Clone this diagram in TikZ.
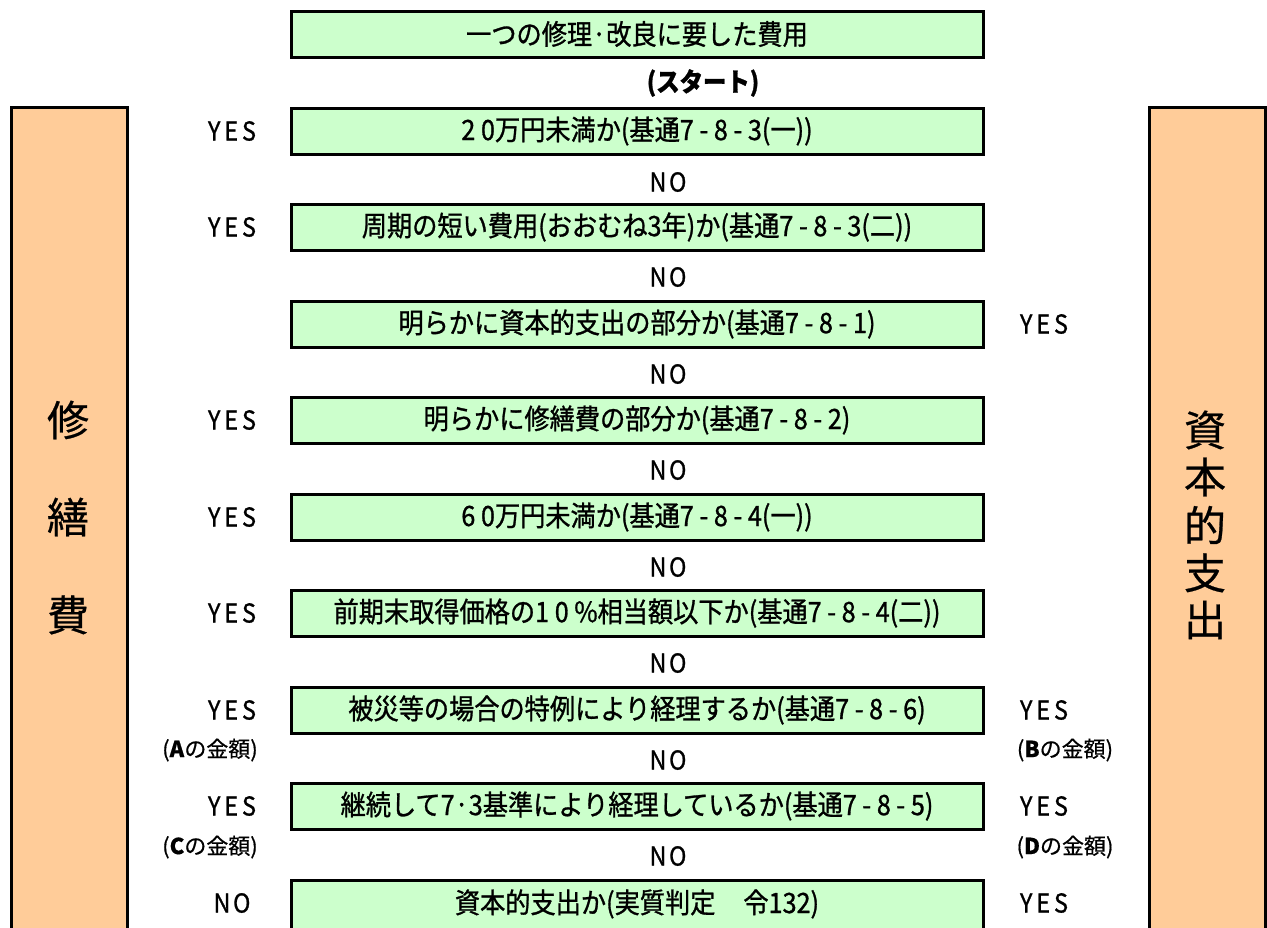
\documentclass[tikz,border=0pt]{standalone}
\usepackage{fontspec}
\setmainfont{Noto Sans CJK JP}[FakeStretch=0.9,FakeBold=1]
\newfontfamily\wide{Noto Sans CJK JP}[FakeBold=0.6]
\definecolor{boxgreen}{HTML}{CCFFCC}
\definecolor{barorange}{HTML}{FFCC99}
\begin{document}
\begin{tikzpicture}[x=1pt,y=-1pt,
  gbox/.style={draw,line width=3pt,fill=boxgreen,minimum width=692pt,minimum height=46pt,inner sep=0pt,font=\fontsize{28}{32}\selectfont},
  sidebar/.style={draw,line width=3pt,fill=barorange,minimum width=116pt,minimum height=840pt,inner sep=0pt,anchor=north west},
  lbl/.style={font=\fontsize{26}{30}\selectfont,inner sep=0pt},
  small/.style={font=\wide\fontsize{22}{26}\selectfont,inner sep=0pt},
  big/.style={font=\wide\fontsize{42}{46}\selectfont,inner sep=0pt}]
\useasboundingbox (0,0) rectangle (1267,927);
% side bars
\node[sidebar] (lbar) at (10,106) {};
\node[sidebar] (rbar) at (1148,106) {};
\node[big] (s1) at (68,420) {修};
\node[big] (s2) at (68,517) {繕};
\node[big] (s3) at (68,615) {費};
\node[big] (c1) at (1205,430) {資};
\node[big] (c2) at (1205,477) {本};
\node[big] (c3) at (1205,525) {的};
\node[big] (c4) at (1205,573) {支};
\node[big] (c5) at (1205,620) {出};
% boxes
\node[gbox] (b0) at (637,34) {一つの修理·改良に要した費用};
\node[lbl,font=\bfseries\fontsize{26}{30}\selectfont] (start) at (703,83) {(スタート)};
\node[gbox] (b1) at (637,131) {2 0万円未満か(基通7 - 8 - 3(一))};
\node[gbox] (b2) at (637,227) {周期の短い費用(おおむね3年)か(基通7 - 8 - 3(二))};
\node[gbox] (b3) at (637,324) {明らかに資本的支出の部分か(基通7 - 8 - 1)};
\node[gbox] (b4) at (637,420) {明らかに修繕費の部分か(基通7 - 8 - 2)};
\node[gbox] (b5) at (637,517) {6 0万円未満か(基通7 - 8 - 4(一))};
\node[gbox] (b6) at (637,613) {前期末取得価格の1 0 \%相当額以下か(基通7 - 8 - 4(二))};
\node[gbox] (b7) at (637,710) {被災等の場合の特例により経理するか(基通7 - 8 - 6)};
\node[gbox] (b8) at (637,806) {継続して7·3基準により経理しているか(基通7 - 8 - 5)};
\node[gbox,minimum height=52pt,text height=25pt,text depth=11pt] (b9) at (637,906) {資本的支出か(実質判定\quad 令132)};
% NO labels between boxes
\node[lbl] (n1) at (668,182) {N\hspace{0.1em}O};
\node[lbl] (n2) at (668,277) {N\hspace{0.1em}O};
\node[lbl] (n3) at (668,374) {N\hspace{0.1em}O};
\node[lbl] (n4) at (668,470) {N\hspace{0.1em}O};
\node[lbl] (n5) at (668,567) {N\hspace{0.1em}O};
\node[lbl] (n6) at (668,663) {N\hspace{0.1em}O};
\node[lbl] (n7) at (668,760) {N\hspace{0.1em}O};
\node[lbl] (n8) at (668,856) {N\hspace{0.1em}O};
% left labels
\node[lbl] (y1) at (232,131) {Y\hspace{0.15em}E\hspace{0.15em}S};
\node[lbl] (y2) at (232,227) {Y\hspace{0.15em}E\hspace{0.15em}S};
\node[lbl] (y4) at (232,420) {Y\hspace{0.15em}E\hspace{0.15em}S};
\node[lbl] (y5) at (232,517) {Y\hspace{0.15em}E\hspace{0.15em}S};
\node[lbl] (y6) at (232,613) {Y\hspace{0.15em}E\hspace{0.15em}S};
\node[lbl] (y7) at (232,710) {Y\hspace{0.15em}E\hspace{0.15em}S};
\node[small] (a7) at (210,750) {(\textbf{A}の金額)};
\node[lbl] (y8) at (232,806) {Y\hspace{0.15em}E\hspace{0.15em}S};
\node[small] (a8) at (210,847) {(\textbf{C}の金額)};
\node[lbl] (n9) at (232,903) {N\hspace{0.1em}O};
% right labels
\node[lbl] (r3) at (1044,324) {Y\hspace{0.15em}E\hspace{0.15em}S};
\node[lbl] (r7) at (1044,710) {Y\hspace{0.15em}E\hspace{0.15em}S};
\node[small] (rb7) at (1065,750) {(\textbf{B}の金額)};
\node[lbl] (r8) at (1044,806) {Y\hspace{0.15em}E\hspace{0.15em}S};
\node[small] (rb8) at (1065,847) {(\textbf{D}の金額)};
\node[lbl] (r9) at (1044,903) {Y\hspace{0.15em}E\hspace{0.15em}S};
\end{tikzpicture}
\end{document}
